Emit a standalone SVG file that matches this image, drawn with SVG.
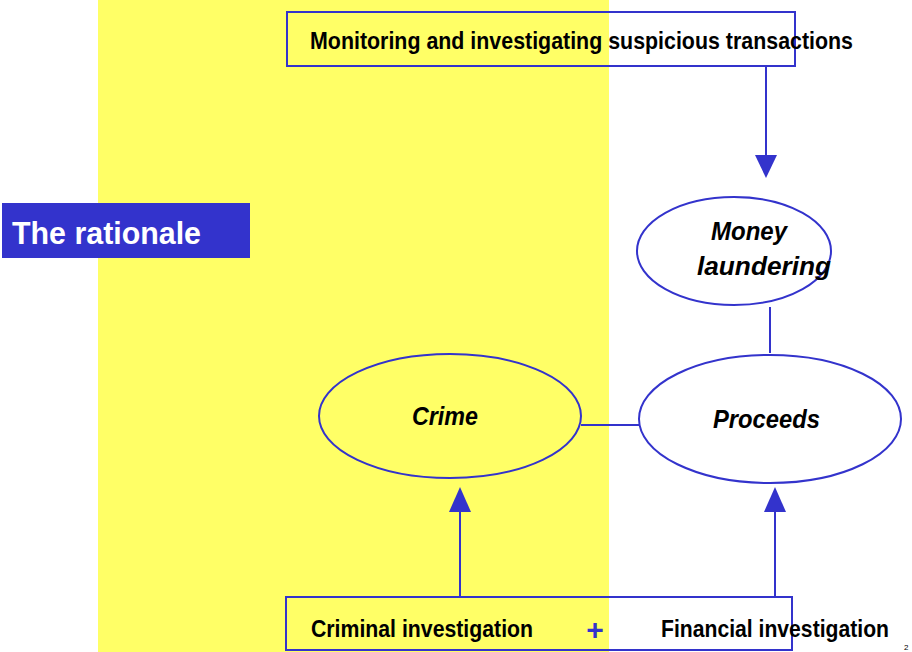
<svg xmlns="http://www.w3.org/2000/svg" width="912" height="652" viewBox="0 0 912 652">
<defs>
<style>
.box{fill:none;stroke:#3333CC;stroke-width:2}
.ell{stroke:#3333CC;stroke-width:2}
.ln{stroke:#3333CC;stroke-width:2;fill:none}
.t{font-family:"Liberation Sans",Arial,sans-serif;font-weight:bold;fill:#000}
.ti{font-family:"Liberation Sans",Arial,sans-serif;font-weight:bold;font-style:italic;fill:#000;font-size:25px}
</style>
</defs>
<rect x="0" y="0" width="912" height="652" fill="#fff"/>
<rect x="98" y="0" width="511" height="652" fill="#FFFF66"/>
<g id="title">
<rect x="2" y="203" width="248" height="55" fill="#3333CC"/>
<text x="12" y="244" class="t" font-size="32" style="fill:#fff" textLength="189" lengthAdjust="spacingAndGlyphs">The rationale</text>
</g>
<g id="connectors">
<line class="ln" x1="766" y1="67" x2="766" y2="155"/>
<path d="M755,155 L777,155 L766,178 z" fill="#3333CC"/>
<line class="ln" x1="770" y1="307" x2="770" y2="353"/>
<line class="ln" x1="581" y1="425" x2="639" y2="425"/>
<line class="ln" x1="460" y1="597" x2="460" y2="510"/>
<path d="M449,512 L471,512 L460,487 z" fill="#3333CC"/>
<line class="ln" x1="775" y1="597" x2="775" y2="510"/>
<path d="M764,512 L786,512 L775,487 z" fill="#3333CC"/>
</g>
<g id="top-box">
<rect class="box" x="287" y="12" width="508" height="54"/>
<text x="310" y="49" class="t" font-size="24" textLength="543" lengthAdjust="spacingAndGlyphs">Monitoring and investigating suspicious transactions</text>
</g>
<g id="money-laundering">
<ellipse class="ell" cx="734" cy="251" rx="97" ry="54" fill="#fff"/>
<text x="711" y="240" class="ti" textLength="76" lengthAdjust="spacingAndGlyphs">Money</text>
<text x="697" y="275" class="ti" textLength="134" lengthAdjust="spacingAndGlyphs">laundering</text>
</g>
<g id="crime">
<ellipse class="ell" cx="450" cy="416" rx="131" ry="62" fill="#FFFF66"/>
<text x="412" y="425" class="ti" textLength="66" lengthAdjust="spacingAndGlyphs">Crime</text>
</g>
<g id="proceeds">
<ellipse class="ell" cx="770" cy="419" rx="131" ry="64" fill="#fff"/>
<text x="713" y="428" class="ti" textLength="107" lengthAdjust="spacingAndGlyphs">Proceeds</text>
</g>
<g id="bottom-box">
<rect class="box" x="286" y="597" width="506" height="53"/>
<text x="311" y="637" class="t" font-size="24" textLength="222" lengthAdjust="spacingAndGlyphs">Criminal investigation</text>
<text x="595" y="640" class="t" font-size="30" text-anchor="middle" style="fill:#3333CC">+</text>
<text x="661" y="637" class="t" font-size="24" textLength="228" lengthAdjust="spacingAndGlyphs">Financial investigation</text>
</g>
<text x="904" y="650" font-family="Liberation Sans,Arial,sans-serif" font-size="8" fill="#000">2</text>
</svg>
